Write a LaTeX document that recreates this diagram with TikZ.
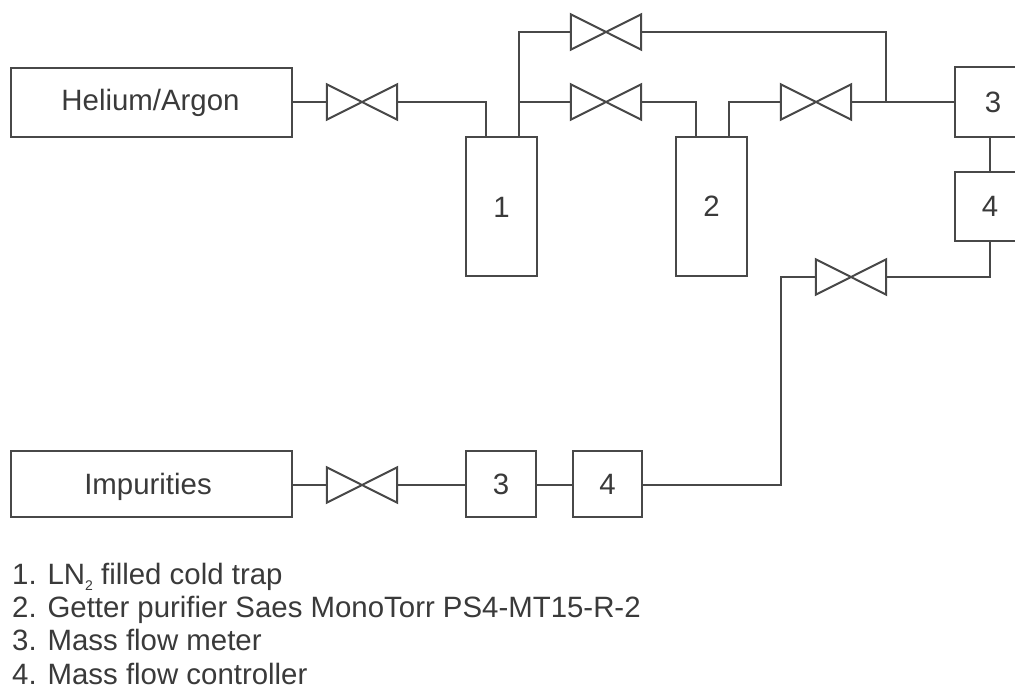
\documentclass[tikz,border=0pt]{standalone}
\usepackage{fontspec}
\setmainfont{Liberation Sans}
\definecolor{ln}{HTML}{484848}
\definecolor{tx}{HTML}{3A3A3A}
\tikzset{
  box/.style={draw=ln,line width=2pt,fill=white,inner sep=0pt,text=tx,font=\fontsize{29.4pt}{33pt}\selectfont},
  valvebox/.style={inner sep=0pt,minimum width=70pt,minimum height=35pt},
  bow/.style={draw=ln,line width=2pt,line join=miter},
  pipe/.style={draw=ln,line width=2pt},
  legend/.style={anchor=base west,inner sep=0pt,text=tx,font=\fontsize{29.4pt}{33pt}\selectfont}
}
\newcommand{\valve}[3]{%
  \node[valvebox] (#1) at (#2,#3) {};
  \draw[bow] (#1.north west) -- (#1.south east) -- (#1.north east) -- (#1.south west) -- cycle;
}
\begin{document}
\begin{tikzpicture}[x=1pt,y=-1pt]
\useasboundingbox (0,0) rectangle (1015,695);
\clip (0,0) rectangle (1015,695);
\fill[white] (0,0) rectangle (1015,695);
\node[box,minimum width=281pt,minimum height=69pt] (he) at (151.5,102.5) {\hspace*{-2pt}Helium/Argon};
\node[box,minimum width=281pt,minimum height=66pt] (imp) at (151.5,484) {\raisebox{-2.5pt}[\height][\depth]{\hspace*{-7pt}Impurities}};
\node[box,minimum width=71pt,minimum height=139pt] (b1) at (501.5,206.5) {\raisebox{-1pt}[\height][\depth]{1}};
\node[box,minimum width=71pt,minimum height=139pt] (b2) at (711.5,206.5) {2};
\node[box,minimum width=70pt,minimum height=70pt] (b3t) at (990,102.5) {\hspace*{6pt}3};
\node[box,minimum width=70pt,minimum height=69pt] (b4t) at (990,206.5) {4};
\node[box,minimum width=70pt,minimum height=66pt] (b3b) at (501,484) {3};
\node[box,minimum width=69pt,minimum height=66pt] (b4b) at (607.5,484) {4};
\valve{v1}{362}{102}
\valve{v2}{606}{32}
\valve{v3}{606}{102}
\valve{v4}{816}{102}
\valve{v5}{851}{277}
\valve{v6}{362}{485}
\coordinate (j1) at (519,102);
\coordinate (j2) at (886,102);
\draw[pipe] (he.east |- v1.west) -- (v1.west);
\draw[pipe] (v1.east) -| (486,137);
\draw[pipe] (519,137) -- (j1) -- (519,32) -- (v2.west);
\draw[pipe] (j1) -- (v3.west);
\draw[pipe] (v3.east) -| (696,137);
\draw[pipe] (v4.west) -| (729,137);
\draw[pipe] (v4.east) -- (b3t.west |- v4.east);
\draw[pipe] (v2.east) -| (j2);
\draw[pipe] (b3t) ++(0,34.75) -- (b4t.north);
\draw[pipe] (b4t.south) |- (v5.east);
\draw[pipe] (v5.west) -| (781,485) -- (b4b.east |- v6.east);
\draw[pipe] (imp.east |- v6.west) -- (v6.west);
\draw[pipe] (v6.east) -- (b3b.west |- v6.east);
\draw[pipe] (b3b.east |- v6.east) -- (b4b.west |- v6.east);
\node[legend] (l1) at (12,584) {1. LN\raisebox{-6pt}{\fontsize{14pt}{14pt}\selectfont 2} filled cold trap};
\node[legend] (l2) at (12,617) {2. Getter purifier Saes MonoTorr PS4-MT15-R-2};
\node[legend] (l3) at (12,650) {3. Mass flow meter};
\node[legend] (l4) at (12,684) {4. Mass flow controller};
\end{tikzpicture}
\end{document}
